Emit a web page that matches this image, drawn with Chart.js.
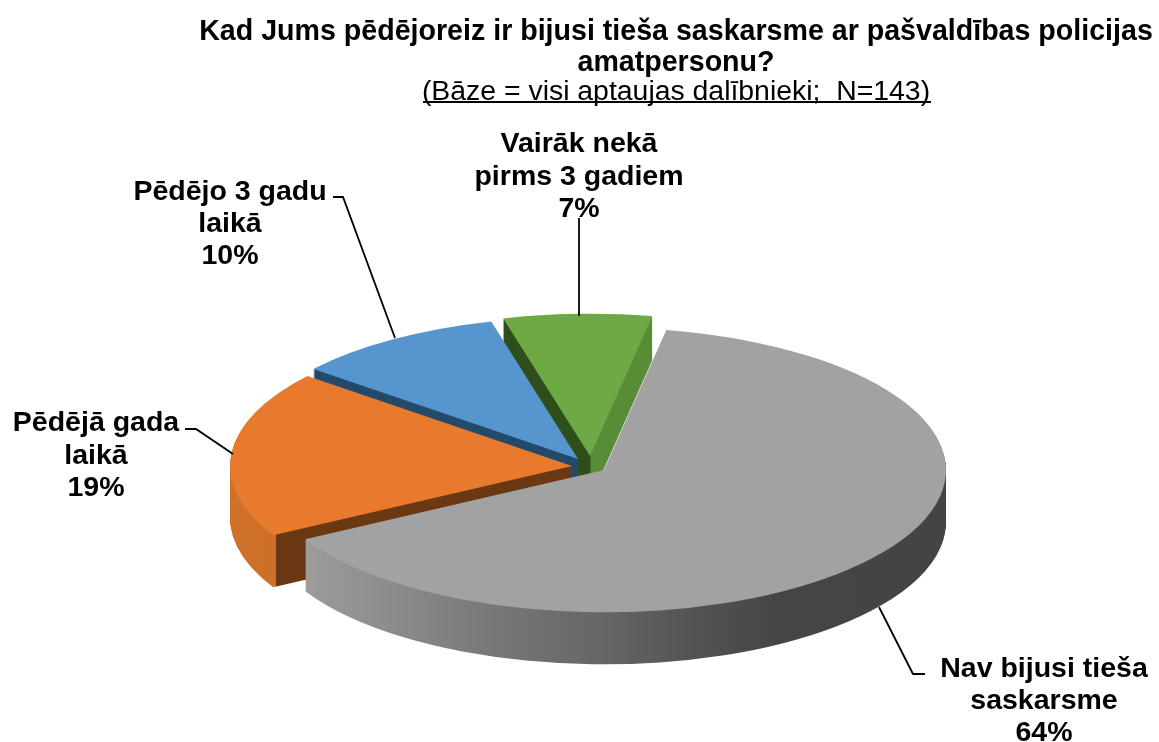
<!DOCTYPE html>
<html>
<head>
<meta charset="utf-8">
<style>html,body{margin:0;padding:0;background:#fff}#wrap{width:1159px;height:742px;position:relative}</style>
<script src="https://cdn.jsdelivr.net/npm/chart.js@4"></script>
</head>
<body>
<div id="wrap"><canvas id="c" width="1159" height="742"></canvas></div>
<script>
const categories = ["Nav bijusi tieša saskarsme", "Pēdējā gada laikā", "Pēdējo 3 gadu laikā", "Vairāk nekā pirms 3 gadiem"];
const values = [64, 19, 10, 7];
const labelLines = [
  ["Nav bijusi tieša", "saskarsme", "64%"],
  ["Pēdējā gada", "laikā", "19%"],
  ["Pēdējo 3 gadu", "laikā", "10%"],
  ["Vairāk nekā", "pirms 3 gadiem", "7%"]
];
const titleLines = ["Kad Jums pēdējoreiz ir bijusi tieša saskarsme ar pašvaldības policijas", "amatpersonu?"];
const subtitleText = "(Bāze = visi aptaujas dalībnieki;  N=143)";
const topColors = ["#A2A2A2", "#E87A2E", "#5795CF", "#6DA945"];

// presentation constants: pie apex of each exploded slice, depth, paint order
const RX = 342, SY = 0.416;
const apex = [[604, 470], [572, 466], [578, 459], [590, 456]];
const depth = [52, 52, 46, 44];
const drawOrder = [3, 2, 1, 0];
const labelAnchors = [[1044, 677, 32], [96, 431, 32.5], [230, 200, 32], [579, 152, 32.5]];
const leaders = [
  [[879, 607], [913, 674], [925, 674]],
  [[185, 429], [196, 429], [233, 454]],
  [[333, 197], [343, 197], [395, 338]],
  [[579, 218], [579, 316]]
];
const FONT = '"Liberation Sans", Arial, sans-serif';

function wallFill(ctx, i, dx) {
  // x coordinates given on screen, converted to the arc's own space
  const stops = [
    [[306, "#9c9c9c"], [400, "#8a8a8a"], [500, "#767676"], [600, "#666666"], [700, "#525252"], [780, "#454545"], [945, "#444444"]],
    [[230, "#d17129"], [275.5, "#cc6f28"], [276.5, "#6a3812"], [600, "#6a3812"]],
    [[300, "#244a6b"], [600, "#244a6b"]],
    [[500, "#2e4f1b"], [590, "#2e4f1b"], [591, "#588c37"], [660, "#588c37"]]
  ][i];
  const a = stops[0][0], b = stops[stops.length - 1][0];
  const g = ctx.createLinearGradient(a + dx, 0, b + dx, 0);
  stops.forEach(s => g.addColorStop((s[0] - a) / (b - a), s[1]));
  return g;
}

const pie3d = {
  id: "pie3d",
  beforeDatasetsDraw(chart) {
    const ctx = chart.ctx;
    const arcs = chart.getDatasetMeta(0).data;
    drawOrder.forEach(i => {
      const arc = arcs[i];
      const [ax, ay] = apex[i];
      const base = arc.options;
      const paint = (yOff, fill) => {
        ctx.save();
        ctx.translate(ax, ay + yOff);
        ctx.scale(1, SY);
        ctx.translate(-arc.x, -arc.y);
        arc.options = Object.assign({}, base, { backgroundColor: fill, borderWidth: 0 });
        arc.draw(ctx);
        ctx.restore();
      };
      const wall = wallFill(ctx, i, arc.x - ax);
      for (let d = depth[i]; d > 0; d--) paint(d, wall);
      paint(0, base.backgroundColor);
      arc.options = base;
    });
    return false;
  },
  afterDraw(chart) {
    const ctx = chart.ctx;
    ctx.save();
    ctx.strokeStyle = "#000";
    ctx.lineWidth = 1.8;
    leaders.forEach(pts => {
      ctx.beginPath();
      pts.forEach((p, k) => k ? ctx.lineTo(p[0], p[1]) : ctx.moveTo(p[0], p[1]));
      ctx.stroke();
    });
    ctx.lineWidth = 2;
    ctx.beginPath(); ctx.moveTo(423, 102); ctx.lineTo(931, 102); ctx.stroke();
    ctx.fillStyle = "#000";
    ctx.font = 'bold 28.5px ' + FONT;
    ctx.textAlign = "center";
    ctx.textBaseline = "alphabetic";
    labelLines.forEach((lines, i) => {
      const [x, y, lh] = labelAnchors[i];
      lines.forEach((t, k) => ctx.fillText(t, x, y + k * lh));
    });
    ctx.restore();
  }
};

new Chart(document.getElementById("c"), {
  type: "pie",
  data: {
    labels: categories,
    datasets: [{ data: values, backgroundColor: topColors, borderWidth: 0 }]
  },
  plugins: [pie3d],
  options: {
    responsive: false,
    animation: false,
    rotation: 10.5,
    radius: RX,
    layout: { padding: { left: 193, top: 17 } },
    plugins: {
      legend: { display: false },
      tooltip: { enabled: false },
      title: {
        display: true, text: titleLines, color: "#000",
        font: { family: FONT, size: 28.6, weight: "bold", lineHeight: 1.08 },
        padding: 0
      },
      subtitle: {
        display: true, text: subtitleText, color: "#000",
        font: { family: FONT, size: 28.4, weight: "normal", lineHeight: 0.92 },
        padding: 0
      }
    }
  }
});
</script>
</body>
</html>
